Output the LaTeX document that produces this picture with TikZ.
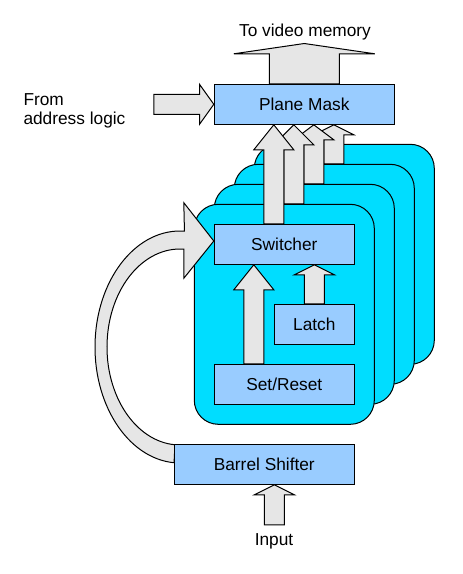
\documentclass[tikz,border=0pt]{standalone}
\usepackage{fontspec}
\setmainfont{Liberation Sans}
\usepackage{tikz}
\usetikzlibrary{calc}
\usetikzlibrary{positioning}

\definecolor{boxblue}{RGB}{153,204,255}
\definecolor{planecyan}{RGB}{0,221,255}
\definecolor{arrowgray}{RGB}{230,230,230}

\tikzset{
	unit/.style={rectangle, draw, fill=boxblue, minimum height=40pt, text height=12.4pt, text depth=0pt, inner sep=0pt},
	plane/.style={rectangle, draw, fill=planecyan, rounded corners=24pt, minimum width=180pt, minimum height=220pt},
	blockarrow/.style={draw, fill=arrowgray, line join=miter},
}

% block arrow pointing up: foot, tip, half shaft, half head, head length
\newcommand{\uparr}[5]{%
	\filldraw [blockarrow] ($(#1)+(-#3, 0)$) -- ($(#2)+(-#3, #5)$) -- ($(#2)+(-#4, #5)$) -- (#2) -- ($(#2)+(#4, #5)$) -- ($(#2)+(#3, #5)$) -- ($(#1)+(#3, 0)$) -- cycle;
}

\begin{document}
\begin{tikzpicture}[x=1pt, y=-1pt, line width=1pt, font=\fontsize{17.3}{19}\selectfont]
	\useasboundingbox (0, 0) rectangle (463, 574);

	\node (pm) [unit, minimum width=180pt] at (304.3, 104.3) {Plane Mask};

	\coordinate (vtip) at ($(pm.north)+(0, -40.3)$);
	\uparr{pm.north}{vtip}{35}{70.5}{10.3}
	\node (video) [anchor=base] at (305, 36) {To video memory};

	\coordinate (fromfoot) at ($(pm.west)+(-60, 0)$);
	\filldraw [blockarrow] ($(fromfoot)+(0, -10)$) -- ($(pm.west)+(-14.3, -10)$) -- ($(pm.west)+(-14.3, -20)$) -- (pm.west) -- ($(pm.west)+(-14.3, 20)$) -- ($(pm.west)+(-14.3, 10)$) -- ($(fromfoot)+(0, 10)$) -- cycle;
	\node (from) [anchor=west, align=left, inner sep=0pt] at (23, 111) {From\\address logic};

	\foreach \k/\h in {4/10, 3/15, 2/20, 1/25} {
		\node (plane\k) [plane] at ({284.3+20*(\k-1)}, {314.3-20*(\k-1)}) {};
		\coordinate (out\k) at ($(plane\k.north west)+(80, 20)$);
		\coordinate (in\k) at (out\k |- pm.south);
		\uparr{out\k}{in\k}{10}{20}{\h}
	}

	\node (sw) [unit, minimum width=140pt] at (284.3, 244.3) {Switcher};
	\node (latch) [unit, minimum width=80pt] at (314.3, 324.3) {Latch};
	\node (sr) [unit, minimum width=140pt] at (284.3, 384.3) {Set/Reset};

	\coordinate (srout) at ($(sr.north west)+(40, 0)$);
	\coordinate (swin) at (srout |- sw.south);
	\uparr{srout}{swin}{10}{20}{25}
	\coordinate (swin2) at (latch.north |- sw.south);
	\uparr{latch.north}{swin2}{10}{20}{10}

	\coordinate (loop) at (180, 347);
	\filldraw [blockarrow] ($(loop)+(273:85 and 116)$) -- ($(sw.west)+(-30, -41.6)$) -- ($(sw.west)+(0, -3.3)$) -- ($(sw.west)+(-30, 34)$) -- ($(loop)+(273:73 and 98)$) arc [start angle=273, end angle=94, x radius=73, y radius=98] -- ($(loop)+(94:85 and 116)$) arc [start angle=94, end angle=273, x radius=85, y radius=116] -- cycle;

	\node (bs) [unit, minimum width=180pt] at (264.3, 464.3) {Barrel Shifter};

	\coordinate (bsin) at ($(bs.south)+(10, 0)$);
	\coordinate (infoot) at ($(bsin)+(0, 40)$);
	\uparr{infoot}{bsin}{10}{20}{10}
	\node (input) [anchor=base] at (274, 545.3) {Input};

\end{tikzpicture}
\end{document}
